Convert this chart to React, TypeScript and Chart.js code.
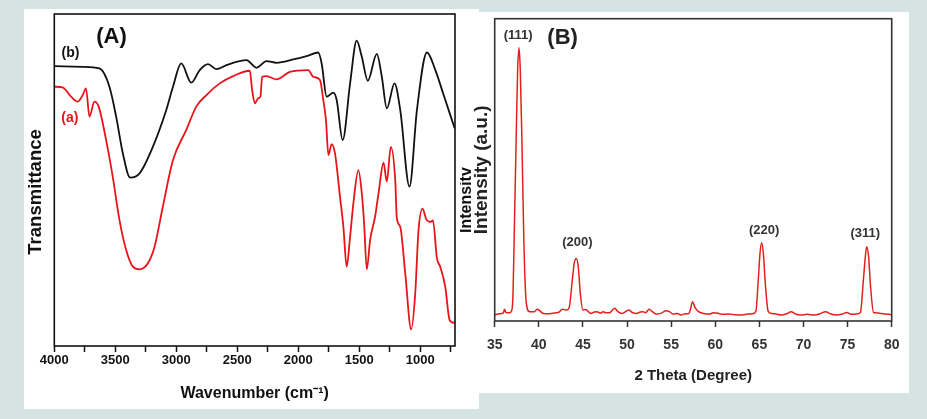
import React, { useEffect, useRef } from 'react';
import { Chart, registerables } from 'chart.js';

Chart.register(...registerables);

// ---------- Panel A: FTIR ----------
const FTIR_B_WAVENUMBER = [4000, 3767, 3630, 3548, 3493, 3438, 3378, 3301, 3192, 3082, 3027, 2959, 2877, 2808, 2740, 2671, 2589, 2425, 2342, 2260, 2178, 2041, 1932, 1836, 1808, 1767, 1712, 1685, 1636, 1575, 1521, 1479, 1430, 1356, 1315, 1274, 1211, 1164, 1088, 1027, 945, 876, 808, 718];
const FTIR_B_TRANSMITTANCE = [84.3, 84.1, 83.6, 78.1, 69.1, 58.0, 50.7, 52.0, 60.0, 71.1, 78.1, 85.1, 79.3, 83.1, 84.9, 83.4, 84.6, 86.1, 83.8, 85.8, 85.3, 86.3, 87.3, 88.4, 85.1, 75.1, 76.3, 74.1, 62.0, 79.1, 92.0, 87.1, 79.9, 88.0, 81.1, 71.6, 79.1, 71.1, 48.0, 71.1, 88.4, 83.1, 75.6, 65.6];

const FTIR_A_WAVENUMBER = [4000, 3932, 3863, 3808, 3767, 3740, 3712, 3671, 3636, 3575, 3521, 3466, 3411, 3356, 3301, 3233, 3178, 3110, 3027, 2918, 2836, 2753, 2644, 2534, 2397, 2378, 2356, 2329, 2310, 2296, 2260, 2178, 2068, 1918, 1877, 1822, 1795, 1773, 1753, 1726, 1699, 1658, 1630, 1603, 1575, 1548, 1507, 1479, 1460, 1438, 1411, 1370, 1342, 1301, 1274, 1241, 1205, 1192, 1164, 1123, 1074, 1041, 1014, 981, 951, 918, 896, 863, 836, 795, 759, 726, 718];
const FTIR_A_TRANSMITTANCE = [78.1, 77.9, 75.1, 73.6, 75.6, 77.6, 69.1, 73.6, 72.1, 62.0, 51.0, 38.0, 28.9, 23.9, 23.1, 24.9, 29.9, 42.0, 56.0, 65.1, 72.1, 75.6, 79.1, 81.3, 82.9, 77.1, 73.1, 74.6, 75.1, 81.1, 81.3, 80.3, 82.6, 83.1, 81.1, 80.1, 74.1, 68.1, 57.5, 60.8, 58.0, 45.0, 35.9, 23.9, 32.9, 43.0, 53.0, 46.0, 36.9, 23.1, 31.9, 39.0, 46.0, 55.2, 49.5, 60.0, 50.0, 38.5, 35.9, 21.9, 5.0, 15.9, 34.9, 41.4, 38.2, 37.4, 37.8, 26.4, 23.9, 17.9, 7.8, 7.0, 7.0];

const FTIR_TICKS = [4000, 3750, 3500, 3250, 3000, 2750, 2500, 2250, 2000, 1750, 1500, 1250, 1000, 750];
const FTIR_LABELED_TICKS = [4000, 3500, 3000, 2500, 2000, 1500, 1000];
const FTIR_X_MIN = 715;
const FTIR_X_MAX = 4000;

const FTIR_NOTE_TEXT = ['(A)', '(b)', '(a)'];
const FTIR_NOTE_WAVENUMBER = [3531, 3868, 3873];
const FTIR_NOTE_TRANSMITTANCE = [93.1, 88.1, 68.5];
const FTIR_NOTE_COLOR = ['#111111', '#111111', '#e8141a'];
const FTIR_NOTE_SIZE = [22, 14, 14];

// ---------- Panel B: XRD ----------
const XRD_2THETA = [35.0, 35.5, 36.0, 36.1, 36.3, 36.7, 36.9, 37.05, 37.27, 37.46, 37.6, 37.76, 37.9, 38.09, 38.31, 38.58, 38.95, 39.5, 39.8, 40.1, 40.5, 41.1, 41.6, 42.2, 42.7, 43.1, 43.43, 43.8, 44.02, 44.25, 44.47, 44.7, 45.0, 45.3, 45.9, 46.3, 46.6, 47.0, 47.3, 47.5, 48.0, 48.6, 49.0, 49.4, 50.2, 50.6, 51.1, 51.5, 51.8, 52.1, 52.5, 52.9, 53.3, 53.9, 54.4, 54.8, 55.2, 55.7, 56.1, 56.6, 57.0, 57.2, 57.42, 57.7, 58.1, 58.7, 59.3, 59.8, 60.4, 60.9, 61.5, 62.2, 63.0, 63.7, 64.2, 64.6, 64.9, 65.07, 65.26, 65.45, 65.67, 66.0, 66.4, 66.9, 67.5, 68.1, 68.6, 69.1, 69.7, 70.4, 71.2, 71.8, 72.5, 73.1, 73.8, 74.4, 74.9, 75.4, 76.0, 76.45, 76.79, 77.01, 77.16, 77.38, 77.6, 77.94, 78.2, 78.8, 79.3, 79.7, 80.0];
const XRD_INTENSITY = [20, 24, 27, 39, 28, 27, 33, 70, 367, 643, 830, 904, 830, 589, 258, 60, 31, 31, 39, 34, 25, 24, 26, 28, 39, 36, 43, 136, 192, 207, 180, 92, 36, 38, 25, 30, 31, 26, 31, 28, 27, 42, 30, 25, 36, 28, 25, 30, 31, 27, 39, 30, 23, 26, 34, 31, 23, 25, 20, 24, 25, 40, 64, 45, 31, 25, 23, 27, 25, 22, 23, 21, 20, 23, 24, 32, 147, 224, 259, 224, 125, 32, 25, 23, 20, 24, 31, 23, 20, 22, 20, 23, 31, 23, 20, 23, 28, 22, 23, 28, 136, 213, 246, 213, 114, 28, 27, 25, 23, 22, 20];

const XRD_TICKS = [35, 40, 45, 50, 55, 60, 65, 70, 75, 80];

const XRD_NOTE_TEXT = ['(111)', '(200)', '(220)', '(311)', '(B)'];
const XRD_NOTE_2THETA = [37.66, 44.38, 65.54, 77.01, 42.7];
const XRD_NOTE_INTENSITY = [944, 261, 301, 291, 938];
const XRD_NOTE_SIZE = [13, 13, 13, 13, 22];

const FONT = "'Liberation Sans', Arial, sans-serif";

function framePlugin(color: string, width: number) {
  return {
    id: 'frame',
    afterDatasetsDraw(chart: any) {
      const { ctx, chartArea } = chart;
      ctx.save();
      ctx.strokeStyle = color;
      ctx.lineWidth = width;
      ctx.strokeRect(chartArea.left, chartArea.top, chartArea.right - chartArea.left, chartArea.bottom - chartArea.top);
      ctx.restore();
    },
  };
}

function notesPlugin(texts: string[], xs: number[], ys: number[], colors: string[], sizes: number[]) {
  return {
    id: 'notes',
    afterDatasetsDraw(chart: any) {
      const { ctx } = chart;
      const sx = chart.scales.x;
      const sy = chart.scales.y;
      ctx.save();
      ctx.textAlign = 'center';
      ctx.textBaseline = 'middle';
      texts.forEach((t, i) => {
        ctx.fillStyle = colors[i];
        ctx.font = `bold ${sizes[i]}px ${FONT}`;
        ctx.fillText(t, sx.getPixelForValue(xs[i]), sy.getPixelForValue(ys[i]));
      });
      ctx.restore();
    },
  };
}

// rotated axis-side text drawn relative to the chart area
function sideTextPlugin(id: string, text: string, size: number, dx: number, yFrac: number, color: string) {
  return {
    id,
    afterDraw(chart: any) {
      const { ctx, chartArea } = chart;
      ctx.save();
      ctx.fillStyle = color;
      ctx.font = `bold ${size}px ${FONT}`;
      ctx.translate(chartArea.left + dx, chartArea.top + (chartArea.bottom - chartArea.top) * yFrac);
      ctx.rotate(-Math.PI / 2);
      ctx.textAlign = 'center';
      ctx.textBaseline = 'middle';
      ctx.fillText(text, 0, 0);
      ctx.restore();
    },
  };
}

function FtirChart() {
  const ref = useRef<HTMLCanvasElement | null>(null);
  useEffect(() => {
    if (!ref.current) return;
    const chart = new Chart(ref.current, {
      type: 'line',
      data: {
        datasets: [
          {
            label: '(b)',
            data: FTIR_B_WAVENUMBER.map((x, i) => ({ x, y: FTIR_B_TRANSMITTANCE[i] })),
            borderColor: '#111111',
            borderWidth: 1.8,
            pointRadius: 0,
            cubicInterpolationMode: 'monotone',
            fill: false,
          },
          {
            label: '(a)',
            data: FTIR_A_WAVENUMBER.map((x, i) => ({ x, y: FTIR_A_TRANSMITTANCE[i] })),
            borderColor: '#e8141a',
            borderWidth: 1.8,
            pointRadius: 0,
            cubicInterpolationMode: 'monotone',
            fill: false,
          },
        ],
      },
      options: {
        animation: false,
        responsive: true,
        maintainAspectRatio: false,
        layout: { padding: { left: 0, top: 5, right: 24, bottom: 0 } },
        plugins: { legend: { display: false }, tooltip: { enabled: false } },
        scales: {
          x: {
            type: 'linear',
            reverse: true,
            min: FTIR_X_MIN,
            max: FTIR_X_MAX,
            afterBuildTicks: (scale: any) => {
              scale.ticks = FTIR_TICKS.map((v) => ({ value: v }));
            },
            afterFit: (scale: any) => {
              scale.height = 63;
            },
            border: { display: false },
            grid: { drawOnChartArea: false, drawTicks: true, tickLength: 6, tickColor: '#111111', tickWidth: 1.5 },
            ticks: {
              autoSkip: false,
              maxRotation: 0,
              padding: 1,
              color: '#111111',
              font: { family: FONT, size: 13, weight: 'bold' },
              callback: (v: any) => (FTIR_LABELED_TICKS.includes(Number(v)) ? String(v) : ''),
            },
            title: {
              display: true,
              text: 'Wavenumber (cm⁻¹)',
              color: '#111111',
              font: { family: FONT, size: 16, weight: 'bold' },
              padding: { top: 0, bottom: 5.5 },
            },
          },
          y: {
            type: 'linear',
            min: 0,
            max: 100,
            afterFit: (scale: any) => {
              scale.width = 30.3;
            },
            border: { display: false },
            grid: { display: false },
            ticks: { display: false },
            title: { display: false, text: 'Transmittance' },
          },
        },
      },
      plugins: [
        framePlugin('#111111', 1.6),
        notesPlugin(FTIR_NOTE_TEXT, FTIR_NOTE_WAVENUMBER, FTIR_NOTE_TRANSMITTANCE, FTIR_NOTE_COLOR, FTIR_NOTE_SIZE),
        sideTextPlugin('ytitle', 'Transmittance', 18.5, -18, 0.536, '#111111'),
      ],
    } as any);
    return () => chart.destroy();
  }, []);
  return <canvas ref={ref} />;
}

function XrdChart() {
  const ref = useRef<HTMLCanvasElement | null>(null);
  useEffect(() => {
    if (!ref.current) return;
    const chart = new Chart(ref.current, {
      type: 'line',
      data: {
        datasets: [
          {
            label: 'XRD',
            data: XRD_2THETA.map((x, i) => ({ x, y: XRD_INTENSITY[i] })),
            borderColor: '#e3201b',
            borderWidth: 1.5,
            pointRadius: 0,
            cubicInterpolationMode: 'monotone',
            fill: false,
          },
        ],
      },
      options: {
        animation: false,
        responsive: true,
        maintainAspectRatio: false,
        layout: { padding: { left: 0, top: 6.7, right: 12.3, bottom: 0 } },
        plugins: { legend: { display: false }, tooltip: { enabled: false } },
        scales: {
          x: {
            type: 'linear',
            min: 35,
            max: 80,
            afterBuildTicks: (scale: any) => {
              scale.ticks = XRD_TICKS.map((v) => ({ value: v }));
            },
            afterFit: (scale: any) => {
              scale.height = 72;
            },
            border: { display: false },
            grid: { drawOnChartArea: false, drawTicks: true, tickLength: 6, tickColor: '#333333', tickWidth: 1.5 },
            ticks: {
              autoSkip: false,
              maxRotation: 0,
              padding: 9.5,
              color: '#333333',
              font: { family: FONT, size: 14, weight: 'bold' },
            },
            title: {
              display: true,
              text: '2 Theta (Degree)',
              color: '#222222',
              font: { family: FONT, size: 15, weight: 'bold' },
              padding: { top: 0, bottom: 8 },
            },
          },
          y: {
            type: 'linear',
            min: 0,
            max: 1000,
            afterFit: (scale: any) => {
              scale.width = 34.7;
            },
            border: { display: false },
            grid: { display: false },
            ticks: { display: false },
            title: {
              display: true,
              text: 'Intensity (a.u.)',
              color: '#222222',
              font: { family: FONT, size: 19, weight: 'bold' },
              padding: { top: 10, bottom: 0 },
            },
          },
        },
      },
      plugins: [
        framePlugin('#333333', 1.6),
        notesPlugin(XRD_NOTE_TEXT, XRD_NOTE_2THETA, XRD_NOTE_INTENSITY, ['#333333', '#333333', '#333333', '#333333', '#222222'], XRD_NOTE_SIZE),
        sideTextPlugin('ghost', 'Intensitv', 16, -28, 0.6, '#111111'),
      ],
    } as any);
    return () => chart.destroy();
  }, []);
  return <canvas ref={ref} />;
}

export default function App() {
  return (
    <div style={{ position: 'fixed', left: 0, top: 0, width: 927, height: 419, background: '#d5e3e3', overflow: 'hidden' }}>
      <div style={{ position: 'absolute', left: 24, top: 9, width: 455, height: 400, background: '#ffffff' }} />
      <div style={{ position: 'absolute', left: 479, top: 12, width: 430, height: 381, background: '#ffffff' }} />
      <div style={{ position: 'absolute', left: 24, top: 9, width: 455, height: 400 }}>
        <FtirChart />
      </div>
      <div style={{ position: 'absolute', left: 460, top: 12, width: 449, height: 381 }}>
        <XrdChart />
      </div>
    </div>
  );
}
